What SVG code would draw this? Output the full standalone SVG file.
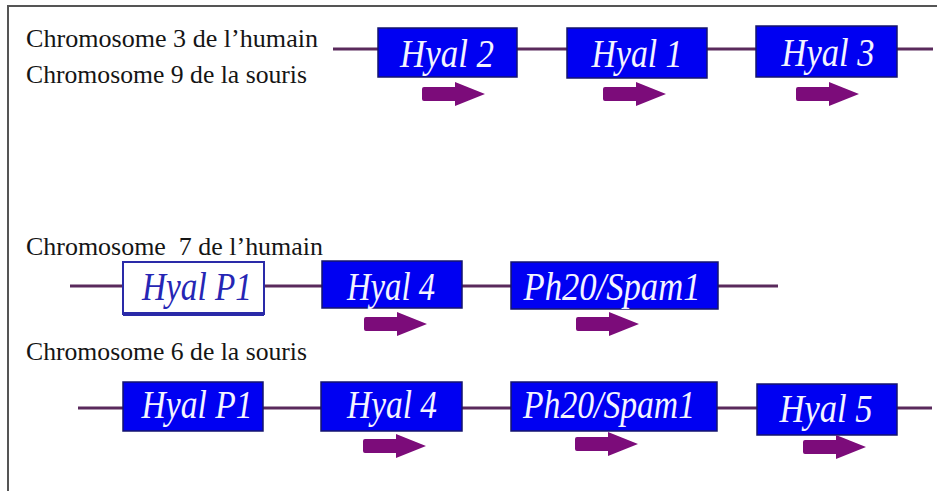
<svg xmlns="http://www.w3.org/2000/svg" width="937" height="491" viewBox="0 0 937 491">
<style>
.bg{fill:#ffffff}
.frame{stroke:#555;stroke-width:2;fill:none}
.lbl{font-family:"Liberation Serif","Times New Roman",serif;font-size:26px;fill:#151515}
.box{fill:#0000f2;stroke:#14146e;stroke-width:1.5}
.pbox{fill:#ffffff;stroke:#2a2aa8;stroke-width:2}
.gene{font-family:"Liberation Serif","Times New Roman",serif;font-style:italic;font-size:41px;fill:#f4f4ff;text-anchor:middle}
.pgene{fill:#2626b4}
.chr{stroke:#5a2a5c;stroke-width:3;fill:none}
.arr{fill:#7c0c7a}
</style>
<defs>
<path id="arrow" d="M2,-7 H33 V-12 L63,0 L33,12 V7 H2 Q0,7 0,5 V-5 Q0,-7 2,-7 Z"/>
</defs>
<rect class="bg" x="0" y="0" width="937" height="491"/>
<path class="frame" d="M8,491 V6 H937"/>
<g id="labels">
<text class="lbl" x="26" y="47" textLength="292" lengthAdjust="spacingAndGlyphs">Chromosome 3 de l’humain</text>
<text class="lbl" x="26" y="83" textLength="281" lengthAdjust="spacingAndGlyphs">Chromosome 9 de la souris</text>
<text class="lbl" x="26" y="255" textLength="297" lengthAdjust="spacingAndGlyphs" xml:space="preserve">Chromosome  7 de l’humain</text>
<text class="lbl" x="26" y="360" textLength="281" lengthAdjust="spacingAndGlyphs">Chromosome 6 de la souris</text>
</g>
<g id="connectors">
<line class="chr" x1="333" y1="49" x2="378" y2="49"/>
<line class="chr" x1="517" y1="49" x2="567" y2="49"/>
<line class="chr" x1="707" y1="49" x2="756" y2="49"/>
<line class="chr" x1="897" y1="49" x2="933" y2="49"/>
<line class="chr" x1="70" y1="286" x2="123" y2="286"/>
<line class="chr" x1="264" y1="286" x2="322" y2="286"/>
<line class="chr" x1="462" y1="286" x2="511" y2="286"/>
<line class="chr" x1="718" y1="286" x2="778" y2="286"/>
<line class="chr" x1="78" y1="408" x2="123" y2="408"/>
<line class="chr" x1="263" y1="408" x2="321" y2="408"/>
<line class="chr" x1="462" y1="408" x2="511" y2="408"/>
<line class="chr" x1="717" y1="408" x2="757" y2="408"/>
<line class="chr" x1="897" y1="408" x2="932" y2="408"/>
</g>
<g id="r1-hyal2">
<rect class="box" x="378" y="28" width="139" height="49"/>
<text class="gene" x="447" y="67" textLength="94" lengthAdjust="spacingAndGlyphs">Hyal 2</text>
<use href="#arrow" class="arr" x="422" y="94"/>
</g>
<g id="r1-hyal1">
<rect class="box" x="567" y="28" width="140" height="50"/>
<text class="gene" x="637" y="67" textLength="91" lengthAdjust="spacingAndGlyphs">Hyal 1</text>
<use href="#arrow" class="arr" x="603" y="94"/>
</g>
<g id="r1-hyal3">
<rect class="box" x="756" y="26" width="141" height="51"/>
<text class="gene" x="828" y="66" textLength="93" lengthAdjust="spacingAndGlyphs">Hyal 3</text>
<use href="#arrow" class="arr" x="796" y="94"/>
</g>
<g id="r3-hyalp1">
<rect class="pbox" x="123" y="262" width="141" height="52"/>
<line x1="123" y1="314" x2="264" y2="314" stroke="#2a2aa8" stroke-width="4"/>
<text class="gene pgene" x="197" y="300" textLength="110" lengthAdjust="spacingAndGlyphs">Hyal P1</text>
</g>
<g id="r3-hyal4">
<rect class="box" x="322" y="261" width="140" height="47"/>
<text class="gene" x="391" y="300" textLength="88" lengthAdjust="spacingAndGlyphs">Hyal 4</text>
<use href="#arrow" class="arr" x="364" y="324"/>
</g>
<g id="r3-ph20">
<rect class="box" x="511" y="262" width="207" height="47"/>
<text class="gene" x="612" y="300" textLength="177" lengthAdjust="spacingAndGlyphs">Ph20/Spam1</text>
<use href="#arrow" class="arr" x="576" y="324"/>
</g>
<g id="r4-hyalp1">
<rect class="box" x="123" y="382" width="140" height="49"/>
<text class="gene" x="197" y="418" textLength="111" lengthAdjust="spacingAndGlyphs">Hyal P1</text>
</g>
<g id="r4-hyal4">
<rect class="box" x="321" y="382" width="141" height="49"/>
<text class="gene" x="392" y="418" textLength="90" lengthAdjust="spacingAndGlyphs">Hyal 4</text>
<use href="#arrow" class="arr" x="363" y="446"/>
</g>
<g id="r4-ph20">
<rect class="box" x="511" y="382" width="206" height="49"/>
<text class="gene" x="609" y="418" textLength="172" lengthAdjust="spacingAndGlyphs">Ph20/Spam1</text>
<use href="#arrow" class="arr" x="575" y="444"/>
</g>
<g id="r4-hyal5">
<rect class="box" x="757" y="384" width="140" height="51"/>
<text class="gene" x="826" y="422" textLength="93" lengthAdjust="spacingAndGlyphs">Hyal 5</text>
<use href="#arrow" class="arr" x="803" y="447"/>
</g>
</svg>
